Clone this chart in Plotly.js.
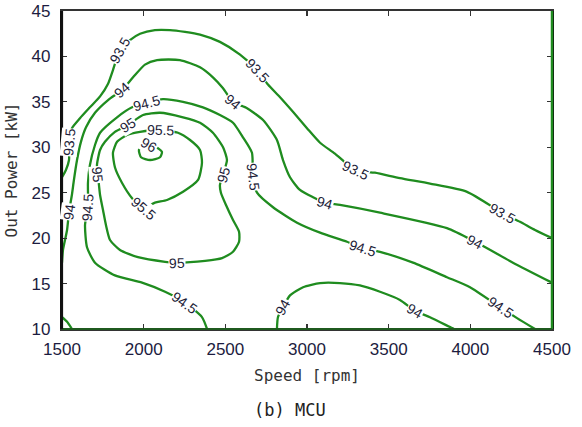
<!DOCTYPE html>
<html>
<head>
<meta charset="utf-8">
<script src="https://cdn.plot.ly/plotly-3.0.1.min.js"></script>
<style>
  html, body { margin: 0; padding: 0; background: #ffffff; }
  #chart { width: 582px; height: 427px; }
</style>
</head>
<body>
<div id="chart"></div>
<script>
// MCU efficiency map: iso-efficiency lines over speed [rpm] and output power [kW].

const speedTicks = [1500, 2000, 2500, 3000, 3500, 4000, 4500];
const powerTicks = [10, 15, 20, 25, 30, 35, 40, 45];

// 93.5 % line
const eff935Speed = [1500, 1524, 1543, 1543, 1561, 1610, 1671, 1733, 1782, 1812, 1855, 1916, 1978, 2069, 2161, 2253, 2345, 2467, 2590, 2694, 2761, 2835, 2914, 3000, 3080, 3171, 3294, 3416, 3569, 3753, 3980, 4194, 4304, 4396, 4500];
const eff935Power = [26.7, 27.5, 28.6, 30.5, 32.1, 33.2, 34.4, 35.6, 37.0, 38.5, 40.7, 41.8, 42.5, 42.9, 42.9, 42.7, 42.4, 41.6, 40.2, 38.5, 36.9, 35.5, 33.9, 32.1, 30.5, 29.3, 27.5, 27.2, 26.6, 26.0, 25.1, 22.8, 21.8, 20.9, 20.0];
const eff935Labels = [3, 10, 19, 26, 31];

// 94 % line, upper branch
const eff94Speed = [1500, 1506, 1531, 1543, 1561, 1573, 1592, 1616, 1647, 1702, 1782, 1867, 1935, 2008, 2082, 2222, 2345, 2424, 2486, 2547, 2633, 2731, 2816, 2853, 2896, 2957, 3037, 3110, 3202, 3447, 3857, 4029, 4261, 4500];
const eff94Power = [17.3, 18.7, 20.9, 22.9, 24.8, 26.4, 28.6, 30.6, 32.2, 33.8, 35.2, 36.3, 37.7, 39.1, 39.6, 39.6, 38.8, 37.7, 36.5, 35.0, 34.3, 33.0, 30.8, 28.6, 26.7, 25.3, 24.5, 23.9, 23.65, 22.8, 21.1, 19.6, 17.3, 15.1];
const eff94Labels = [3, 11, 19, 27, 31];

// 94 % line, low-power hump
const eff94LowSpeed = [2816, 2822, 2853, 2896, 2976, 3080, 3202, 3324, 3447, 3569, 3661, 3753, 3888, 3900];
const eff94LowPower = [10.0, 11.3, 12.4, 13.7, 14.6, 15.06, 15.06, 14.8, 14.1, 13.2, 12.0, 11.3, 10.1, 10.0];
const eff94LowLabels = [2, 10];

// 94 % line, low-speed corner
const eff94CornerSpeed = [1500, 1531, 1561];
const eff94CornerPower = [11.3, 10.8, 10.0];
const eff94CornerLabels = [];

// 94.5 % line
const eff945Speed = [2388, 2357, 2253, 2131, 1990, 1824, 1702, 1653, 1641, 1659, 1659, 1671, 1702, 1733, 1837, 1929, 2020, 2118, 2241, 2363, 2467, 2547, 2608, 2663, 2669, 2694, 2792, 2939, 3080, 3245, 3337, 3447, 3649, 3857, 3998, 4182, 4286, 4396];
const eff945Power = [10.0, 11.3, 12.9, 14.1, 15.1, 15.9, 17.3, 19.0, 21.45, 23.4, 26.1, 28.05, 30.25, 31.6, 33.3, 34.4, 34.9, 35.3, 35.0, 34.4, 33.55, 32.7, 31.1, 29.4, 26.7, 25.0, 23.4, 21.7, 20.6, 19.6, 18.9, 18.5, 17.3, 15.7, 14.6, 12.4, 11.2, 10.0];
const eff945Labels = [2, 9, 16, 24, 30, 35];

// 95 % closed line
const eff95Speed = [1733, 1714, 1720, 1733, 1751, 1769, 1794, 1855, 1965, 2131, 2204, 2376, 2480, 2547, 2584, 2584, 2547, 2504, 2473, 2467, 2486, 2510, 2486, 2424, 2345, 2241, 2100, 1996, 1904, 1824, 1763, 1733];
const eff95Power = [29.7, 28.05, 27.0, 24.75, 23.1, 21.45, 19.8, 18.7, 17.9, 17.4, 17.3, 17.5, 17.8, 18.5, 19.6, 20.7, 22.0, 23.65, 25.0, 25.85, 27.0, 28.6, 30.0, 31.6, 32.7, 33.3, 33.8, 33.55, 32.45, 31.7, 30.6, 29.7];
const eff95Labels = [2, 10, 20, 28];

// 95.5 % closed line
const eff955Speed = [1898, 1978, 2100, 2210, 2284, 2345, 2357, 2333, 2241, 2143, 2069, 1996, 1929, 1867, 1824, 1812, 1837, 1898];
const eff955Power = [31.35, 31.7, 31.9, 31.6, 30.8, 29.7, 28.3, 26.4, 25.1, 24.2, 23.9, 23.3, 24.4, 26.1, 27.8, 29.4, 30.6, 31.35];
const eff955Labels = [2, 11];

// 96 % closed line
const eff96Speed = [1996, 1971, 1984, 2039, 2100, 2112, 2069, 2033, 1996];
const eff96Power = [30.25, 29.7, 28.9, 28.6, 28.9, 29.5, 30.1, 30.25, 30.25];
const eff96Labels = [7];

const contours = [
  { level: 93.5, speed: eff935Speed, power: eff935Power, labels: eff935Labels },
  { level: 94, speed: eff94Speed, power: eff94Power, labels: eff94Labels },
  { level: 94, speed: eff94LowSpeed, power: eff94LowPower, labels: eff94LowLabels },
  { level: 94, speed: eff94CornerSpeed, power: eff94CornerPower, labels: eff94CornerLabels },
  { level: 94.5, speed: eff945Speed, power: eff945Power, labels: eff945Labels },
  { level: 95, speed: eff95Speed, power: eff95Power, labels: eff95Labels },
  { level: 95.5, speed: eff955Speed, power: eff955Power, labels: eff955Labels },
  { level: 96, speed: eff96Speed, power: eff96Power, labels: eff96Labels }
];

// ---- drawing ----
const W = 582, H = 427;
const M = { l: 62, r: 30, t: 11, b: 98 };
const plotW = W - M.l - M.r, plotH = H - M.t - M.b;
const xRange = [1500, 4500], yRange = [10, 45];
const lineGreen = '#1f8c1f';
const labelFont = { family: 'Liberation Sans, Arial, sans-serif', size: 14, color: '#1d1d38' };
const titleFont = 'DejaVu Sans Mono, Liberation Mono, monospace';

// a few labels sit at the tip of a closed loop, where the text is tilted by hand
const labelTilt = { '95.5:11': 40, '96:7': 30 };

function labelAngle(xs, ys, i) {
  const a = Math.max(0, i - 1), b = Math.min(xs.length - 1, i + 1);
  const dx = (xs[b] - xs[a]) / (xRange[1] - xRange[0]) * plotW;
  const dy = -(ys[b] - ys[a]) / (yRange[1] - yRange[0]) * plotH;
  let ang = Math.atan2(dy, dx) * 180 / Math.PI;
  if (ang > 90) ang -= 180;
  if (ang <= -90) ang += 180;
  return ang;
}

const traces = [];
const annotations = [];
contours.forEach(c => {
  traces.push({
    type: 'scatter', mode: 'lines',
    x: c.speed, y: c.power,
    line: { color: lineGreen, width: 2.3, shape: 'spline', smoothing: 0.6 },
    hoverinfo: 'skip', showlegend: false
  });
  c.labels.forEach(i => {
    const key = c.level + ':' + i;
    const ang = (key in labelTilt) ? labelTilt[key] : labelAngle(c.speed, c.power, i);
    annotations.push({
      x: c.speed[i], y: c.power[i], xref: 'x', yref: 'y',
      text: String(c.level), showarrow: false,
      textangle: ang, font: labelFont,
      bgcolor: '#ffffff', borderpad: 0,
      xanchor: 'center', yanchor: 'middle'
    });
  });
});

annotations.push({
  x: 0.465, y: -0.255, xref: 'paper', yref: 'paper',
  text: '(b) MCU', showarrow: false,
  font: { family: titleFont, size: 17, color: '#222222' },
  xanchor: 'center', yanchor: 'middle'
});

const tickFont = { family: 'Liberation Sans, Arial, sans-serif', size: 17, color: '#1c1c40' };

const layout = {
  width: W, height: H,
  margin: { l: M.l, r: M.r, t: M.t, b: M.b, pad: 0 },
  paper_bgcolor: '#ffffff', plot_bgcolor: '#ffffff',
  showlegend: false,
  xaxis: {
    range: xRange, tickvals: speedTicks, ticktext: speedTicks.map(String),
    ticks: 'inside', ticklen: 5, tickwidth: 1.2, tickcolor: '#333333',
    showline: true, linecolor: '#333333', linewidth: 1.6, mirror: 'ticks',
    showgrid: false, zeroline: false, tickfont: tickFont, ticklabelstandoff: 4,
    title: { text: 'Speed [rpm]', font: { family: titleFont, size: 16, color: '#333333' }, standoff: 12 }
  },
  yaxis: {
    range: yRange, tickvals: powerTicks, ticktext: powerTicks.map(String),
    ticks: 'inside', ticklen: 5, tickwidth: 1.2, tickcolor: '#333333',
    showline: true, linecolor: '#111111', linewidth: 2.2, mirror: 'ticks',
    showgrid: false, zeroline: false, tickfont: tickFont, ticklabelstandoff: 6,
    title: { text: 'Out Power [kW]', font: { family: titleFont, size: 16, color: '#333333' }, standoff: 10 }
  },
  shapes: [
    { type: 'line', xref: 'paper', yref: 'paper', x0: 1, x1: 1, y0: 0, y1: 1,
      line: { color: lineGreen, width: 2.5 }, layer: 'above' },
    { type: 'line', xref: 'paper', yref: 'paper', x0: 0, x1: 1, y0: 0, y1: 0,
      line: { color: '#1f5a1f', width: 2.2 }, layer: 'above' },
    { type: 'line', xref: 'paper', yref: 'paper', x0: 0, x1: 0, y0: 0, y1: 1,
      line: { color: '#111111', width: 2.2 }, layer: 'above' }
  ],
  annotations: annotations
};

Plotly.newPlot('chart', traces, layout, { staticPlot: true, displayModeBar: false });
</script>
</body>
</html>
